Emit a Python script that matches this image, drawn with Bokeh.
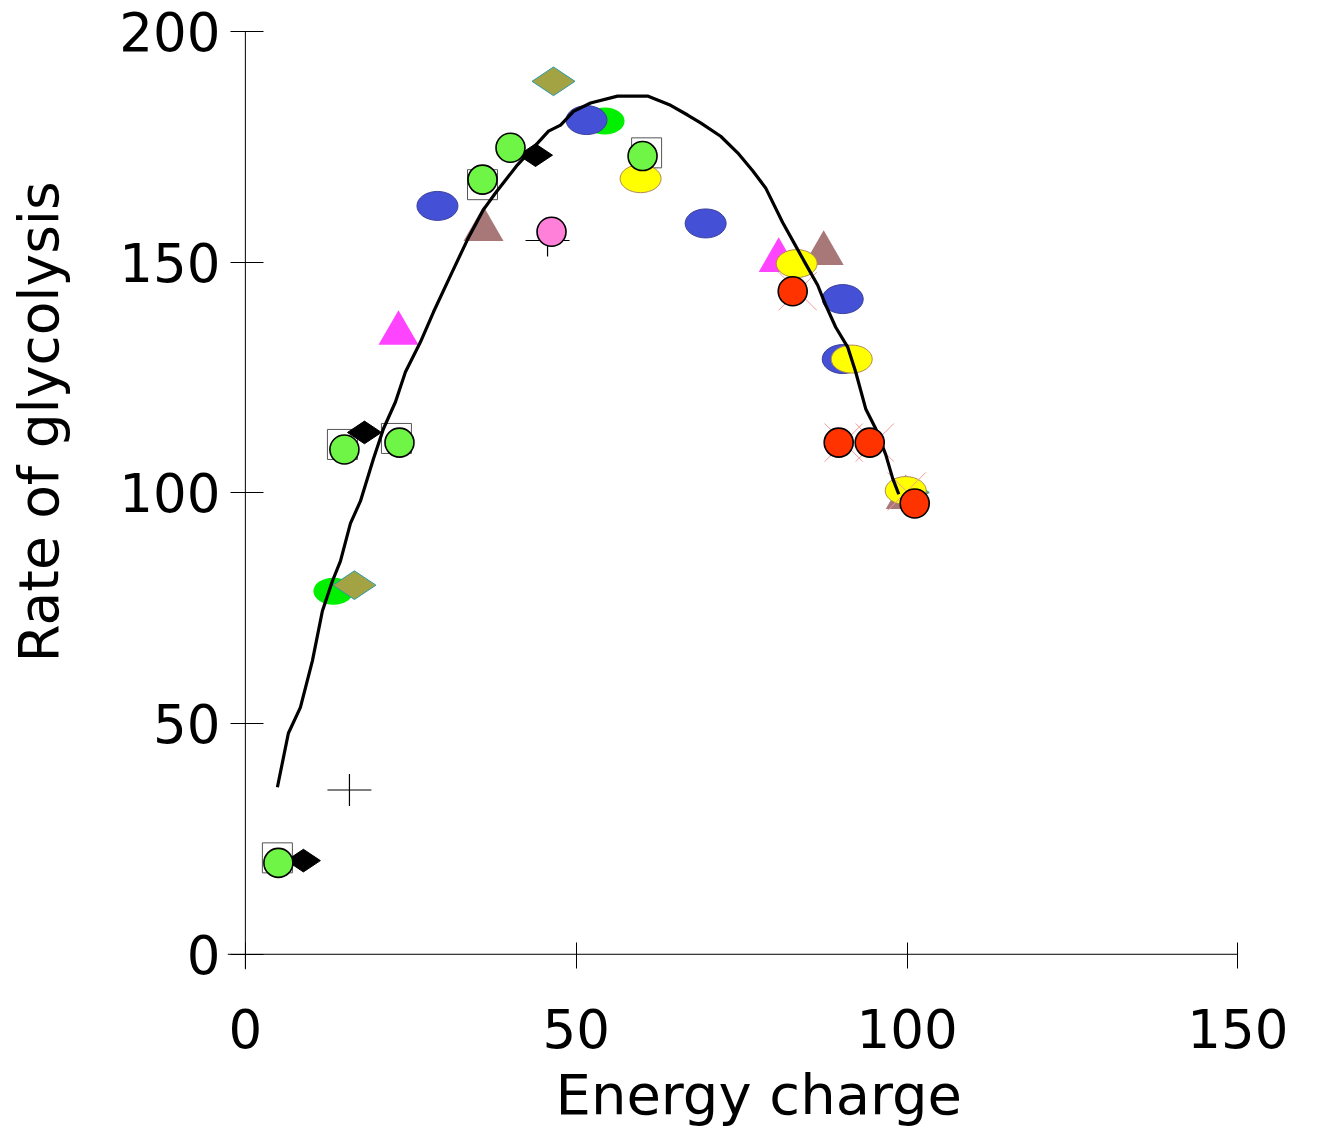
import math
from bokeh.plotting import figure
from bokeh.models import Range1d, FixedTicker, Title
from bokeh.embed import file_html
from bokeh.resources import INLINE

# ---------------- data ----------------
x_ticks = [0, 50, 100, 150]
y_ticks = [0, 50, 100, 150, 200]
x_label = "Energy charge"
y_label = "Rate of glycolysis"

curve_x = [4.84, 6.50, 8.32, 10.13, 11.64, 13.16, 14.37, 15.88, 17.39, 19.36, 20.87,
           22.68, 24.19, 26.46, 28.43, 31.00, 33.57, 35.99, 37.80, 41.13, 44.16, 45.82,
           47.64, 49.60, 52.17, 56.25, 60.79, 64.27, 66.84, 68.80, 71.83, 74.40, 76.67,
           78.63, 81.20, 82.87, 84.38, 86.50, 87.71, 89.22, 91.03, 92.24, 93.76, 95.27,
           96.78, 97.84, 98.75]
curve_y = [36.2, 47.9, 53.5, 63.6, 74.4, 80.9, 85.2, 93.4, 98.2, 107.4, 113.9,
           119.7, 126.2, 132.7, 139.2, 147.1, 154.9, 161.4, 165.0, 171.1, 175.8, 178.4,
           179.7, 182.7, 184.5, 186.0, 186.0, 184.0, 181.9, 180.2, 177.3, 173.7, 169.8,
           166.1, 158.6, 154.3, 150.4, 145.0, 140.7, 135.9, 131.6, 126.2, 118.2, 113.9,
           108.3, 103.1, 99.7]

square_x = [4.84, 14.67, 22.83, 35.84, 60.64]
square_y = [20.9, 110.5, 111.8, 166.8, 173.7]

lgreen_circle_x = [4.99, 14.97, 23.29, 35.84, 40.07, 60.03]
lgreen_circle_y = [19.8, 109.4, 110.9, 167.9, 174.8, 173.0]

black_diamond_x = [8.77, 18.0, 43.85]
black_diamond_y = [20.3, 113.1, 173.2]

olive_diamond_x = [16.48, 46.57, 100.1]
olive_diamond_y = [80.0, 189.2, 100.1]

blue_ell_x = [29.03, 51.56, 69.56, 90.28, 90.28]
blue_ell_y = [162.2, 180.8, 158.4, 142.0, 129.0]

green_ell_x = [13.31, 54.29]
green_ell_y = [78.7, 180.6]

yellow_ell_x = [59.73, 83.32, 91.64, 99.80]
yellow_ell_y = [168.1, 149.7, 129.0, 100.5]

magenta_tri_x = [23.14, 80.60]
magenta_tri_y = [134.6, 150.4]

brown_tri_x = [35.99, 87.40, 99.80]
brown_tri_y = [157.1, 151.9, 99.0]

pink_circle_x = [46.27]
pink_circle_y = [156.6]

plus_x = [15.73, 45.67]
plus_y = [35.6, 154.7]

red_circle_x = [82.72, 89.67, 94.36, 101.16]
red_circle_y = [143.7, 110.9, 110.9, 97.7]

xmark_x = [83.47, 90.43, 95.12, 99.95]
xmark_y = [143.7, 110.9, 110.9, 100.3]

# axis extents (axes cross at 0, lines overshoot slightly below/left of 0)
X0, X1 = -2.7, 151
Y0, Y1 = -3.3, 200

# ---------------- figure ----------------
FONT = "DejaVu Sans"
p = figure(width=1317, height=1139,
           x_range=Range1d(X0, X1), y_range=Range1d(Y0, Y1),
           output_backend="svg", toolbar_location=None,
           min_border_left=227, min_border_right=73,
           min_border_top=31, min_border_bottom=169)
p.outline_line_color = None
p.grid.visible = False
p.background_fill_color = "white"
p.border_fill_color = "white"

p.xaxis.ticker = FixedTicker(ticks=x_ticks)
p.yaxis.ticker = FixedTicker(ticks=y_ticks)
for ax in (p.xaxis, p.yaxis):
    ax.minor_tick_line_color = None
    ax.axis_line_color = None
    ax.major_tick_line_color = "black"
    ax.major_tick_line_width = 1
    ax.major_label_text_font = FONT
    ax.major_label_text_font_size = "53px"
    ax.major_label_text_color = "black"
p.xaxis.major_tick_in = 27
p.xaxis.major_tick_out = -1
p.yaxis.major_tick_in = 36
p.yaxis.major_tick_out = -3
p.xaxis.major_label_standoff = 39
p.yaxis.major_label_standoff = 7

# y axis title, padded with no-break spaces so it sits above the frame centre
p.yaxis.axis_label = "\u00a0" * 9 + y_label
p.yaxis.axis_label_text_font = FONT
p.yaxis.axis_label_text_font_size = "55px"
p.yaxis.axis_label_text_font_style = "normal"
p.yaxis.axis_label_text_color = "black"
p.yaxis.axis_label_standoff = 45

# axis lines crossing at the origin
p.segment(x0=[0, X0], y0=[Y0, 0], x1=[0, x_ticks[-1]], y1=[y_ticks[-1], 0],
          line_color="black", line_width=1)

# markers (back to front)
p.scatter(square_x, square_y, marker="square", size=30, fill_color=None,
          line_color="#555555", line_width=1)
p.ellipse(green_ell_x, green_ell_y, width=40, height=27, width_units="screen",
          height_units="screen", fill_color="#00F000", line_color=None)
p.ellipse(blue_ell_x, blue_ell_y, width=41, height=29, width_units="screen",
          height_units="screen", fill_color="#4450D6", line_color="#3A3F9A", line_width=1)
p.scatter(olive_diamond_x, olive_diamond_y, marker="diamond", angle=math.pi / 2, size=43,
          fill_color="#A3A343", line_color="#2A9AAA", line_width=1)
p.scatter(black_diamond_x, black_diamond_y, marker="diamond", angle=math.pi / 2, size=34,
          fill_color="black", line_color="black")
p.scatter(magenta_tri_x, magenta_tri_y, marker="triangle", size=40,
          fill_color="#FF44FF", line_color=None)
p.scatter(brown_tri_x, brown_tri_y, marker="triangle", size=40,
          fill_color="#A87878", line_color=None)
p.ellipse(yellow_ell_x, yellow_ell_y, width=41, height=28, width_units="screen",
          height_units="screen", fill_color="#FFFF00", line_color="#B08A50", line_width=1)
p.scatter(plus_x, plus_y, marker="dash", size=44, line_color="black", line_width=1.2)
p.scatter(plus_x, plus_y, marker="dash", angle=math.pi / 2, size=32,
          line_color="black", line_width=1.2)
p.scatter(xmark_x, xmark_y, marker="x", size=54, line_color="#F29A9A", line_width=1)

p.line(curve_x, curve_y, line_color="black", line_width=3.2)

p.scatter(lgreen_circle_x, lgreen_circle_y, marker="circle", size=29,
          fill_color="#6EF545", line_color="black", line_width=1.6)
p.scatter(pink_circle_x, pink_circle_y, marker="circle", size=29,
          fill_color="#FF80D8", line_color="black", line_width=1.6)
p.scatter(red_circle_x, red_circle_y, marker="circle", size=29,
          fill_color="#FF3300", line_color="black", line_width=1.6)

# x axis title
xt = Title(text=x_label, align="left", offset=328, vertical_align="top", standoff=22,
           text_font=FONT, text_font_size="56px", text_font_style="normal",
           text_color="black")
p.add_layout(xt, "below")

open("out.html", "w").write(file_html(p, INLINE))
